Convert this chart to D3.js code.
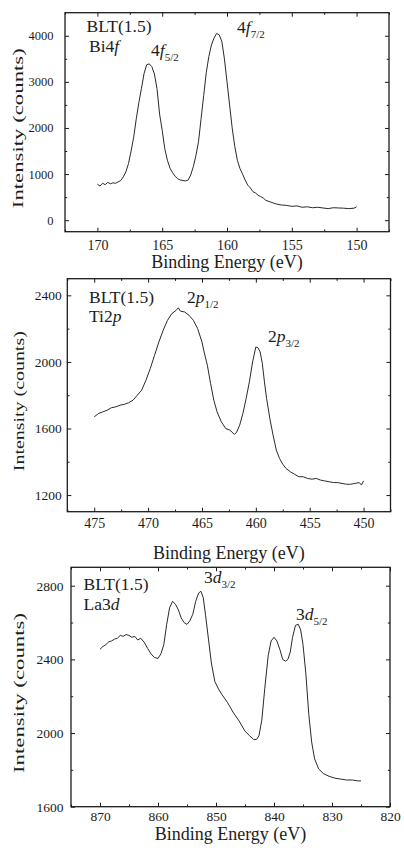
<!DOCTYPE html>
<html><head><meta charset="utf-8">
<script src="https://cdn.jsdelivr.net/npm/d3@7"></script>
<style>
body{margin:0;background:#fff}
svg{display:block}
text{font-family:"Liberation Serif","Times New Roman",serif;fill:#1c1c1c}
</style>
</head><body>
<svg id="c" width="404" height="848"></svg>
<script>
// ---------- DATA ----------
const biEnergy=[170.0,169.8,169.6,169.4,169.2,169.0,168.8,168.6,168.4,168.2,168.0,167.8,167.6,167.4,167.2,167.0,166.8,166.6,166.4,166.2,166.0,165.8,165.6,165.4,165.2,165.0,164.8,164.6,164.4,164.2,164.0,163.8,163.6,163.4,163.2,163.0,162.8,162.6,162.4,162.2,162.0,161.8,161.6,161.4,161.2,161.0,160.8,160.6,160.4,160.2,160.0,159.8,159.6,159.4,159.2,159.0,158.8,158.6,158.4,158.2,158.0,157.8,157.6,157.4,157.2,157.0,156.6,156.2,155.8,155.4,155.0,154.6,154.2,153.8,153.4,153.0,152.6,152.2,151.8,151.4,151.0,150.6,150.2,150.0];
const biCounts=[780,740,800,770,820,790,810,800,830,860,940,1050,1230,1500,1800,2200,2550,2860,3180,3370,3390,3330,3170,2850,2300,1950,1550,1300,1130,1030,950,900,870,860,850,870,980,1160,1400,1700,2200,2700,3200,3550,3800,3950,4050,4020,3880,3500,3000,2500,2000,1600,1300,1120,1000,870,760,700,620,590,540,510,480,430,390,350,330,320,300,310,280,290,270,280,265,250,270,265,260,250,260,290];
const biXTicks=[170,165,160,155,150];
const biXMinor=[172.5,167.5,162.5,157.5,152.5,147.5];
const biYTicks=[0,1000,2000,3000,4000];
const biYMinor=[500,1500,2500,3500];

const tiEnergy=[475.0,474.6,474.2,473.8,473.4,473.0,472.6,472.2,471.8,471.4,471.0,470.6,470.2,469.8,469.4,469.0,468.6,468.2,467.8,467.4,467.2,467.0,466.6,466.2,465.8,465.4,465.0,464.8,464.5,464.2,463.9,463.6,463.2,462.8,462.4,462.0,461.8,461.5,461.2,460.9,460.6,460.3,460.0,459.8,459.6,459.4,459.2,459.0,458.7,458.4,458.1,457.8,457.5,457.2,456.8,456.4,456.0,455.6,455.2,454.8,454.4,454.0,453.6,453.2,452.8,452.4,452.0,451.6,451.2,450.8,450.4,450.2,450.0];
const tiCounts=[1670,1690,1700,1710,1725,1730,1740,1745,1755,1770,1800,1830,1890,1960,2040,2120,2190,2250,2290,2310,2325,2305,2300,2280,2250,2200,2120,2060,1980,1870,1770,1700,1640,1600,1590,1565,1575,1620,1690,1780,1880,2000,2090,2085,2060,1990,1880,1780,1660,1560,1470,1420,1385,1360,1340,1325,1310,1310,1300,1295,1300,1290,1285,1280,1275,1275,1270,1265,1265,1270,1275,1260,1285];
const tiXTicks=[475,470,465,460,455,450];
const tiXMinor=[477.5,472.5,467.5,462.5,457.5,452.5,447.5];
const tiYTicks=[1200,1600,2000,2400];
const tiYMinor=[1400,1800,2200];

const laEnergy=[870,869.5,869,868.5,868,867.5,867,866.5,866,865.5,865,864.5,864,863.5,863,862.4,861.8,861.2,860.6,860.0,859.5,859.0,858.5,858.0,857.5,857.0,856.5,856.0,855.5,855.0,854.5,854.0,853.5,853.0,852.6,852.2,851.8,851.3,850.8,850.2,849.5,849.0,848.0,847.0,846.0,845.0,844.2,843.5,843.0,842.6,842.1,841.6,841.0,840.5,840.0,839.5,839.0,838.5,838.0,837.6,837.2,836.8,836.3,835.8,835.4,835.0,834.5,834.0,833.5,833.0,832.3,831.5,830.5,829.5,828.5,827.5,826.5,825.5,825.0];
const laCounts=[2455,2470,2480,2495,2500,2510,2515,2530,2525,2535,2530,2520,2525,2505,2515,2494,2460,2430,2410,2405,2430,2480,2590,2680,2715,2700,2670,2625,2600,2590,2610,2645,2715,2760,2770,2735,2640,2510,2380,2280,2235,2210,2165,2110,2065,2010,1985,1965,1965,1985,2070,2240,2420,2500,2520,2500,2455,2400,2390,2400,2440,2520,2585,2590,2560,2480,2320,2100,1950,1860,1805,1780,1765,1755,1750,1745,1745,1740,1740];
const laXTicks=[870,860,850,840,830,820];
const laXMinor=[875,865,855,845,835,825];
const laYTicks=[1600,2000,2400,2800];
const laYMinor=[1800,2200,2600];

const xTitle="Binding Energy (eV)";
const yTitle="Intensity (counts)";

// ---------- LAYOUT ----------
const panels=[
 {e:biEnergy,c:biCounts,xd:[172.5,147.5],yd:[-250,4500],xt:biXTicks,xm:biXMinor,yt:biYTicks,ym:biYMinor,
  L:65,R:389,T:12.7,B:231.7,xpad:8,ypad:11.5,xfs:14,yfs:12.5,titleY:268,yTitleX:22.5,yTitleLen:160,
  labels:[{x:86.5,y:31.5,parts:[["BLT(1.5)",0]]},{x:89,y:51.5,parts:[["Bi4",0],["f",1]]},
          {x:151,y:56,parts:[["4",0],["f",1],["5/2",2]]},{x:237,y:33,parts:[["4",0],["f",1],["7/2",2]]}]},
 {e:tiEnergy,c:tiCounts,xd:[477.5,447.5],yd:[1100,2500],xt:tiXTicks,xm:tiXMinor,yt:tiYTicks,ym:tiYMinor,
  L:67.3,R:390.5,T:278.7,B:511.7,xpad:6,ypad:5.5,xfs:14,yfs:13.5,titleY:559,yTitleX:24,yTitleLen:140,
  labels:[{x:89,y:302.5,parts:[["BLT(1.5)",0]]},{x:89,y:322,parts:[["Ti2",0],["p",1]]},
          {x:187,y:302.5,parts:[["2",0],["p",1],["1/2",2]]},{x:268,y:342,parts:[["2",0],["p",1],["3/2",2]]}]},
 {e:laEnergy,c:laCounts,xd:[875,820],yd:[1600,2900],xt:laXTicks,xm:laXMinor,yt:laYTicks,ym:laYMinor,
  L:71,R:390,T:567.3,B:806.7,xpad:5,ypad:7.5,xfs:13.5,yfs:13.5,titleY:840,yTitleX:24,yTitleLen:160,
  labels:[{x:83.5,y:590,parts:[["BLT(1.5)",0]]},{x:83.5,y:610,parts:[["La3",0],["d",1]]},
          {x:204,y:583,parts:[["3",0],["d",1],["3/2",2]]},{x:296,y:620,parts:[["3",0],["d",1],["5/2",2]]}]}
];

const svg=d3.select("#c");
const ink="#1c1c1c";

panels.forEach(p=>{
  const x=d3.scaleLinear().domain(p.xd).range([p.L,p.R]);
  const y=d3.scaleLinear().domain(p.yd).range([p.B,p.T]);
  const g=svg.append("g");

  function styleAxis(fs){
    return sel=>{
      sel.select(".domain").remove();
      sel.selectAll("line").attr("stroke",ink).attr("stroke-width",1);
      sel.selectAll("text").attr("font-size",fs).attr("fill",ink).style("font-family",'"Liberation Serif",serif');
    };
  }
  g.append("g").attr("transform",`translate(0,${p.B})`)
    .call(d3.axisBottom(x).tickValues(p.xt).tickFormat(d3.format("d")).tickSize(-4).tickPadding(p.xpad)).call(styleAxis(p.xfs));
  g.append("g").attr("transform",`translate(0,${p.B})`)
    .call(d3.axisBottom(x).tickValues(p.xm).tickFormat("").tickSize(-2.2)).call(styleAxis(p.xfs));
  g.append("g").attr("transform",`translate(0,${p.T})`)
    .call(d3.axisTop(x).tickValues(p.xt).tickFormat("").tickSize(-4)).call(styleAxis(p.xfs));
  g.append("g").attr("transform",`translate(0,${p.T})`)
    .call(d3.axisTop(x).tickValues(p.xm).tickFormat("").tickSize(-2.2)).call(styleAxis(p.xfs));
  g.append("g").attr("transform",`translate(${p.L},0)`)
    .call(d3.axisLeft(y).tickValues(p.yt).tickFormat(d3.format("d")).tickSize(-4).tickPadding(p.ypad)).call(styleAxis(p.yfs));
  g.append("g").attr("transform",`translate(${p.L},0)`)
    .call(d3.axisLeft(y).tickValues(p.ym).tickFormat("").tickSize(-2.2)).call(styleAxis(p.yfs));
  g.append("g").attr("transform",`translate(${p.R},0)`)
    .call(d3.axisRight(y).tickValues(p.yt).tickFormat("").tickSize(-4)).call(styleAxis(p.yfs));
  g.append("g").attr("transform",`translate(${p.R},0)`)
    .call(d3.axisRight(y).tickValues(p.ym).tickFormat("").tickSize(-2.2)).call(styleAxis(p.yfs));

  g.append("rect").attr("x",p.L).attr("y",p.T).attr("width",p.R-p.L).attr("height",p.B-p.T)
    .attr("fill","none").attr("stroke",ink).attr("stroke-width",1.3);

  const pts=p.e.map((v,i)=>[v,p.c[i]]);
  g.append("path").datum(pts)
    .attr("d",d3.line().x(d=>x(d[0])).y(d=>y(d[1])))
    .attr("fill","none").attr("stroke","#2a2a2a").attr("stroke-width",1).attr("stroke-linejoin","round");

  g.append("text").attr("x",(p.L+p.R)/2).attr("y",p.titleY).attr("text-anchor","middle")
    .attr("font-size",18).text(xTitle);
  g.append("text").attr("transform",`translate(${p.yTitleX},${(p.T+p.B)/2+6}) rotate(-90)`)
    .attr("text-anchor","middle").attr("font-size",15.5)
    .attr("textLength",p.yTitleLen).attr("lengthAdjust","spacingAndGlyphs").text(yTitle);

  p.labels.forEach(l=>{
    const t=g.append("text").attr("x",l.x).attr("y",l.y).attr("font-size",17.5);
    l.parts.forEach(([s,k])=>{
      const ts=t.append("tspan").text(s);
      if(k===1) ts.attr("font-style","italic");
      if(k===2) ts.attr("font-size",11).attr("dy",5);
    });
  });
});
</script>
</body></html>
